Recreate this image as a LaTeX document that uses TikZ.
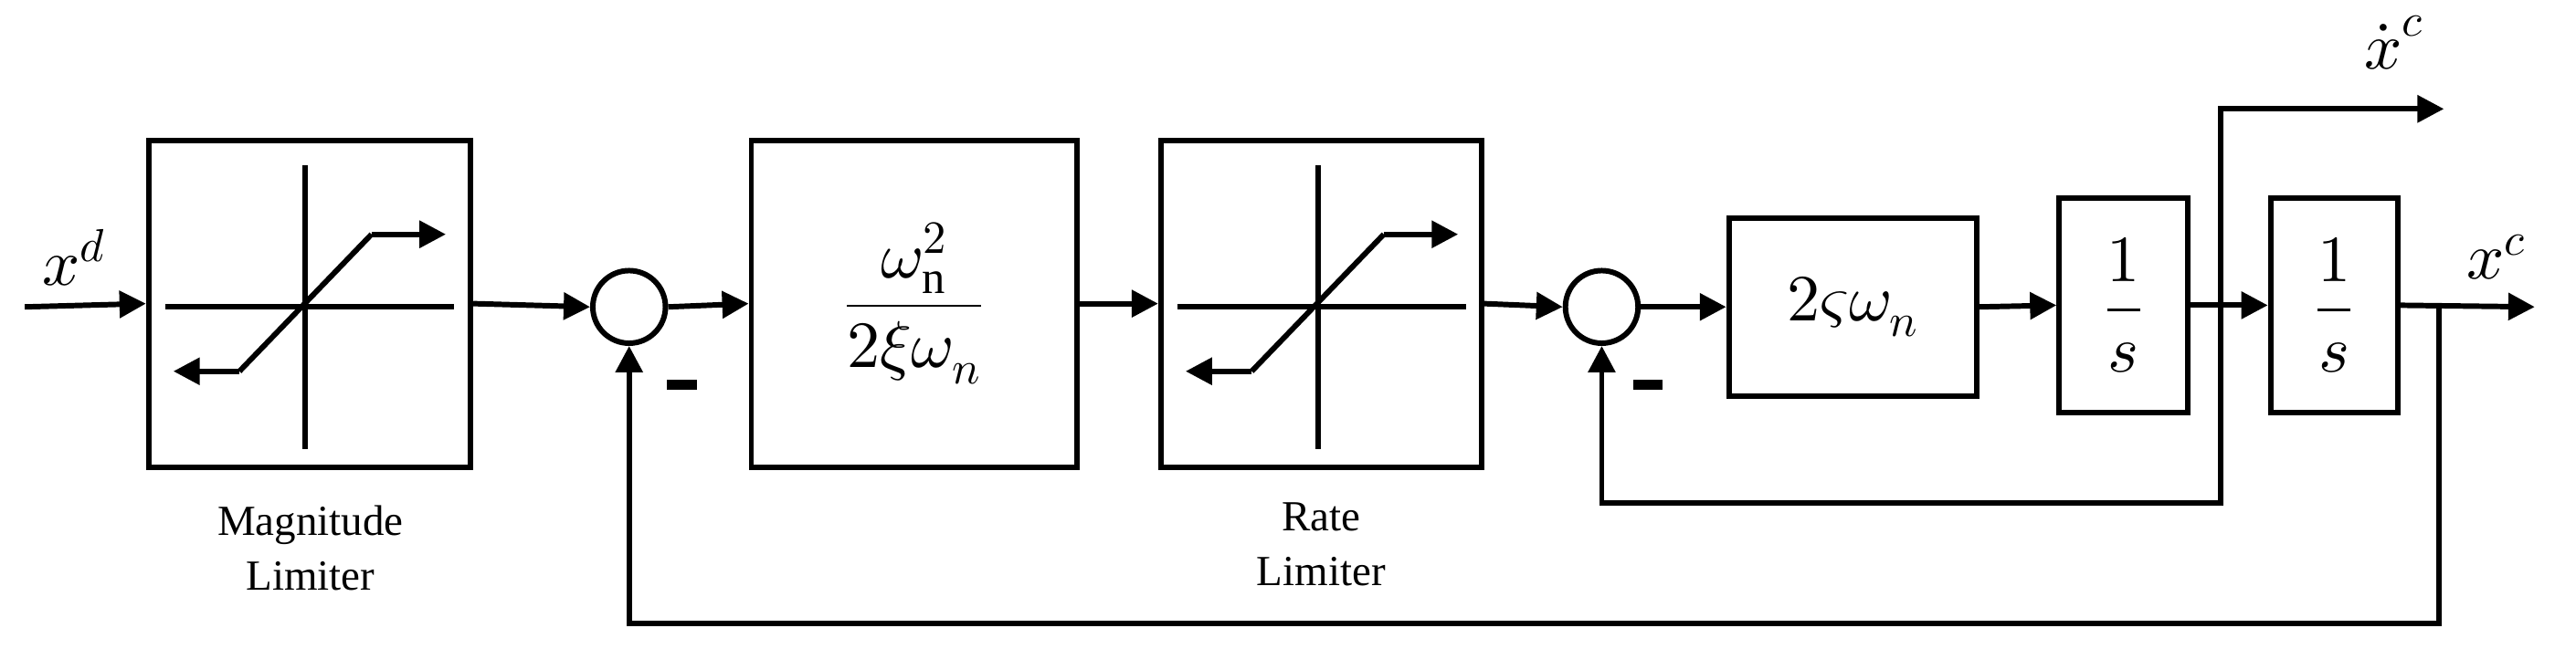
\documentclass[tikz,border=0pt]{standalone}
\usepackage{fontspec}
\setmainfont{Liberation Serif}
\usepackage{unicode-math}
\setmathfont{Latin Modern Math}
\usetikzlibrary{arrows.meta,shapes.geometric}
\begin{document}
\begin{tikzpicture}[x=1pt,y=-1pt,
  ln/.style={line width=3.3pt},
  ar/.style={ln,-{Triangle[length=16pt,width=16pt]}},
  blk/.style={draw,line width=3.3pt,inner sep=0pt},
  sum/.style={draw,ellipse,line width=3.3pt,minimum width=44pt,minimum height=44pt,inner sep=0pt},
  lab/.style={font=\fontsize{26}{33}\selectfont,align=center},
  mt/.style={font=\fontsize{40}{46}\selectfont}]
\useasboundingbox (0,0) rectangle (1560,393);
% blocks
\node[blk,minimum width=195pt,minimum height=198pt] (b1) at (187.5,184) {};
\node[sum] (s1) at (381,186) {};
\node[blk,minimum width=197pt,minimum height=198pt,mt] (b2) at (553.5,184) {$\displaystyle\frac{\omega_{\mathrm{n}}^{2}}{2\xi\omega_{n}}$};
\node[blk,minimum width=194pt,minimum height=198pt] (b3) at (800,184) {};
\node[sum] (s2) at (970,186) {};
\node[blk,minimum width=150pt,minimum height=108pt,mt] (b4) at (1122,186) {$2\varsigma\omega_{n}$};
\node[blk,minimum width=78pt,minimum height=130pt,mt] (b5) at (1286,185) {$\displaystyle\frac{1}{s}$};
\node[blk,minimum width=77pt,minimum height=130pt,mt] (b6) at (1413.5,185) {$\displaystyle\frac{1}{s}$};
% limiter graphics
\foreach \b/\c in {b1/185,b3/798}{
  \draw[ln] (\c-85,186) -- (\c+90,186);
  \draw[ln] (\c,100) -- (\c,272);
  \draw[ar] (\c-40,225) -- (\c-80,225);
  \draw[ar] (\c+40,142) -- (\c+85,142);
  \draw[ln] (\c-40,225) -- (\c+40,142);
}
\node[lab] (l1) at (188,332) {Magnitude\\Limiter};
\node[lab] (l3) at (800,330) {Rate\\Limiter};
% coordinates
\coordinate (in) at (15,186);
\coordinate (out) at (1535,186);
\coordinate (b1x) at (1477,186);
\coordinate (b2x) at (1345,186);
\coordinate (dout) at (1480,66);
% connectors
\draw[ar] (in) -- (b1.west);
\draw[ar] (b1.east) -- (s1.west);
\draw[ar] (s1.east) -- (b2.west);
\draw[ar] (b2.east) -- (b3.west);
\draw[ar] (b3.east) -- (s2.west);
\draw[ar] (s2.east) -- (b4.west);
\draw[ar] (b4.east) -- (b5.west);
\draw[ar] (b5.east) -- (b6.west);
\draw[ar] (b6.east) -- (out);
\draw[ar] (b1x) -- (1477,378) -- (381,378) -- (s1.south);
\draw[ar] (b2x) -- (1345,305) -- (970,305) -- (s2.south);
\draw[ar] (b2x) -- (1345,66) -- (dout);
% minus signs
\fill (404,230) rectangle (422,236);
\fill (989,230) rectangle (1007,236);
% labels
\node[mt] (xd) at (45,156) {$x^{d}$};
\node[mt] (xc) at (1512,156) {$x^{c}$};
\node[mt] (xdc) at (1450,26) {$\dot{\boldsymbol{x}}^{c}$};
\end{tikzpicture}
\end{document}
